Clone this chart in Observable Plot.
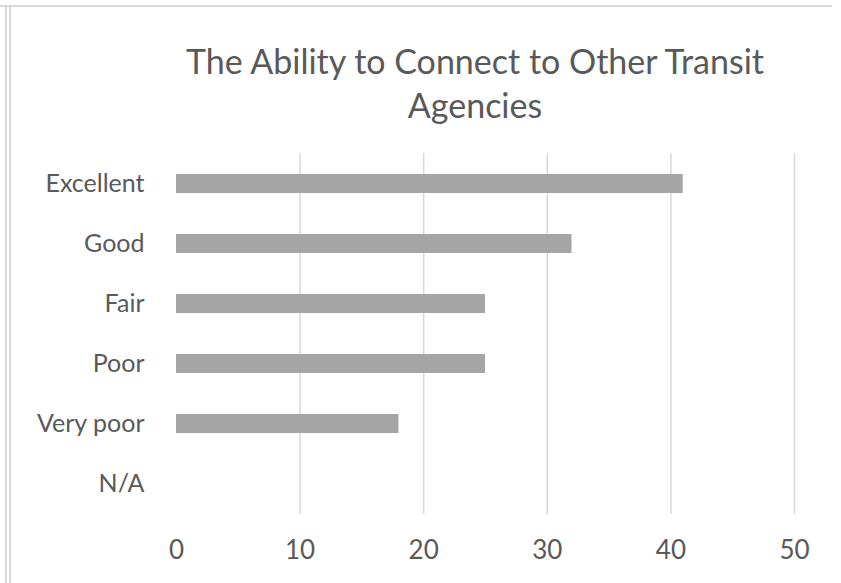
<!DOCTYPE html>
<html>
<head>
<meta charset="utf-8">
<script src="https://cdn.jsdelivr.net/npm/d3@7"></script>
<script src="https://cdn.jsdelivr.net/npm/@observablehq/plot@0.6"></script>
<style>
  html, body { margin: 0; padding: 0; background: #fff; }
  #wrap { position: relative; width: 841px; height: 583px; overflow: hidden; font-family: Lato, "Open Sans", sans-serif; }
  .frame { position: absolute; background: #d9d9d9; }
  #title { position: absolute; left: 125px; width: 700px; top: 39px; text-align: center; color: #595959; font-size: 34px; line-height: 44px; font-weight: 400; }
  #chart { position: absolute; left: 0; top: 140px; }
</style>
</head>
<body>
<div id="wrap">
  <div class="frame" style="left:0;top:5px;width:832px;height:2px"></div>
  <div class="frame" style="left:5px;top:5px;width:2px;height:578px"></div>
  <div class="frame" style="left:9px;top:5px;width:2px;height:578px"></div>
  <div id="title">The Ability to Connect to Other Transit<br>Agencies</div>
  <div id="chart"></div>
</div>
<script>
const categories = ["Excellent", "Good", "Fair", "Poor", "Very poor", "N/A"];
const values = [41, 32, 25, 25, 18, 0];
const xTicks = [0, 10, 20, 30, 40, 50];
const gridTicks = [10, 20, 30, 40, 50];

const data = categories.map((c, i) => ({category: c, value: values[i]}));

const chart = Plot.plot({
  width: 841,
  height: 443,
  marginLeft: 176,
  marginRight: 47,
  marginTop: 13,
  marginBottom: 69,
  style: {fontFamily: "Lato, 'Open Sans', sans-serif", color: "#595959", background: "transparent"},
  x: {domain: [0, 50], ticks: xTicks},
  y: {domain: categories, paddingInner: 0.68, paddingOuter: 0.34},
  marks: [
    Plot.ruleX(gridTicks, {stroke: "#d9d9d9", strokeWidth: 1.5, strokeOpacity: 1}),
    Plot.barX(data, {x: "value", y: "category", fill: "#a5a5a5"}),
    Plot.axisX({ticks: xTicks, tickSize: 0, tickPadding: 26, fontSize: 26, fill: "#595959", label: null}),
    Plot.axisY({tickSize: 0, tickPadding: 32, fontSize: 25, fill: "#595959", label: null})
  ]
});
document.getElementById("chart").appendChild(chart);
</script>
</body>
</html>
